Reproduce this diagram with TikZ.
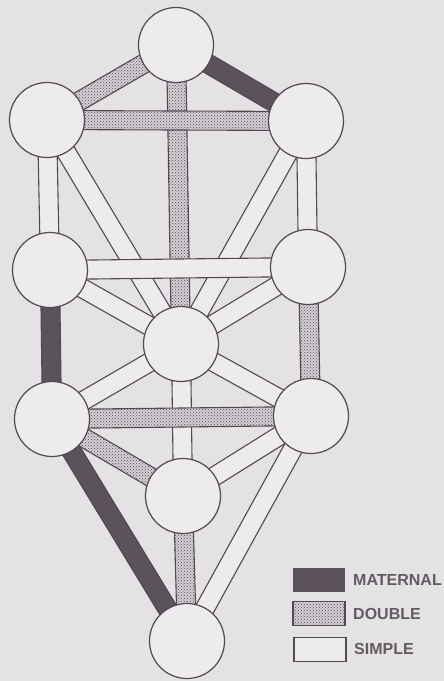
\documentclass[tikz,border=0pt]{standalone}
\usepackage{fontspec}
\setmainfont{Liberation Sans}
\usetikzlibrary{calc,patterns}
\definecolor{bgc}{RGB}{229,226,229}
\definecolor{paper}{RGB}{238,235,238}
\definecolor{ink}{RGB}{80,74,80}
\definecolor{mat}{RGB}{92,82,90}
\definecolor{dbl}{RGB}{212,208,212}
\pgfdeclarelayer{back}
\pgfdeclarelayer{bands}
\pgfsetlayers{back,bands,main}
\newcommand\band[3]{\path[#1] ($(#2.center)!9.5pt!90:(#3.center)$) -- ($(#3.center)!9.5pt!-90:(#2.center)$) -- ($(#3.center)!9.5pt!90:(#2.center)$) -- ($(#2.center)!9.5pt!-90:(#3.center)$) -- cycle;}
\tikzset{
  sef/.style={circle, draw=ink, fill=paper, line width=1.2pt, minimum size=75pt, inner sep=0pt},
  simplepath/.style={draw=ink, fill=paper, line width=1.1pt, line join=miter},
  doublepath/.style={draw=ink, line width=1.1pt, preaction={fill=dbl}, pattern=crosshatch dots, pattern color=ink},
  maternalpath/.style={draw=ink, fill=mat, line width=1.1pt},
  legbox/.style={minimum width=52pt, minimum height=24pt, inner sep=0pt, line width=1.1pt},
  legtext/.style={anchor=west, text=ink!90, font=\bfseries\fontsize{16}{18}\selectfont, inner sep=0pt}
}
\begin{document}
\begin{tikzpicture}[x=1pt,y=-1pt]
\useasboundingbox (0,0) rectangle (444,681);
\begin{pgfonlayer}{back}
\fill[bgc] (0,0) rectangle (444,681);
\end{pgfonlayer}
% sefirot
\node[sef] (keter)   at (176,45)  {};
\node[sef] (binah)   at (47,120)  {};
\node[sef] (chokmah) at (306,121) {};
\node[sef] (gevurah) at (50,270)  {};
\node[sef] (chesed)  at (308,267) {};
\node[sef] (tiferet) at (181,344) {};
\node[sef] (hod)     at (52,419)  {};
\node[sef] (netzach) at (311,416) {};
\node[sef] (yesod)   at (183,496) {};
\node[sef] (malkuth) at (187,641) {};
\begin{pgfonlayer}{bands}
\band{doublepath}{keter}{binah}
\band{maternalpath}{keter}{chokmah}
\band{simplepath}{binah}{gevurah}
\band{simplepath}{binah}{tiferet}
\band{simplepath}{chokmah}{chesed}
\band{simplepath}{chokmah}{tiferet}
\band{simplepath}{gevurah}{tiferet}
\band{simplepath}{chesed}{tiferet}
\band{maternalpath}{gevurah}{hod}
\band{doublepath}{chesed}{netzach}
\band{simplepath}{tiferet}{hod}
\band{simplepath}{tiferet}{netzach}
\band{simplepath}{tiferet}{yesod}
\band{doublepath}{hod}{yesod}
\band{simplepath}{netzach}{yesod}
\band{maternalpath}{hod}{malkuth}
\band{doublepath}{yesod}{malkuth}
\band{simplepath}{netzach}{malkuth}
\band{doublepath}{keter}{tiferet}
\band{doublepath}{binah}{chokmah}
\band{simplepath}{gevurah}{chesed}
\band{doublepath}{hod}{netzach}
\end{pgfonlayer}
% legend
\node[legbox, fill=mat] (lm) at (319,579.5) {};
\node[legbox, draw=ink, preaction={fill=dbl}, pattern=crosshatch dots, pattern color=ink] (ld) at (319,613.5) {};
\node[legbox, draw=ink, fill=paper] (ls) at (320,649.5) {};
\node[legtext] (tm) at (353,580) {MATERNAL};
\node[legtext] (td) at (353,614) {DOUBLE};
\node[legtext] (ts) at (354,649) {SIMPLE};
\end{tikzpicture}
\end{document}
